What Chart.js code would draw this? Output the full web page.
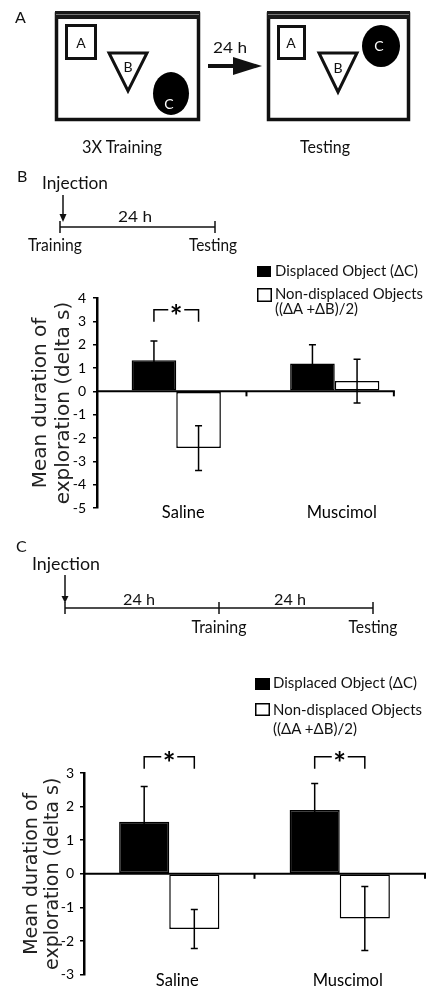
<!DOCTYPE html>
<html>
<head>
<meta charset="utf-8">
<script src="https://cdn.jsdelivr.net/npm/chart.js@4.4.0/dist/chart.umd.min.js"></script>
<style>
    html, body { margin: 0; padding: 0; background: #fff; }
    #page { position: relative; width: 427px; height: 989px; overflow: hidden; }
    canvas { position: absolute; left: 0; }
    #chartB { top: 250px; }
    #chartC { top: 740px; }
    svg { position: absolute; left: 0; top: 0; pointer-events: none; }
    svg text { font-family: Lato, "Noto Sans", sans-serif; fill: #111; }
</style>
</head>
<body>
<div id="page">
    <canvas id="chartB" width="427" height="285"></canvas>
    <canvas id="chartC" width="427" height="249"></canvas>

    <svg id="art" width="427" height="989" xmlns="http://www.w3.org/2000/svg">

        <!-- panel A : arenas -->
        <text x="15" y="23" font-size="16">A</text>

        <rect x="56.5" y="14" width="142" height="105.5" fill="none" stroke="#111" stroke-width="3.5"/>
        <rect x="55" y="11" width="145" height="8" fill="#1a1a1a"/>
        <line x1="56" y1="14.5" x2="199" y2="14.5" stroke="#777" stroke-width="1"/>
        <rect x="66.5" y="25.5" width="29" height="33" fill="none" stroke="#111" stroke-width="3"/>
        <text x="81" y="48" font-size="14" text-anchor="middle">A</text>
        <polygon points="109,53 147,53 128,91" fill="#fff" stroke="#111" stroke-width="3"/>
        <text x="128" y="72" font-size="14" text-anchor="middle">B</text>
        <ellipse cx="171" cy="93.5" rx="18" ry="21.5" fill="#000"/>
        <text x="169" y="109" font-size="14" text-anchor="middle" style="fill:#fff">C</text>

        <line x1="208" y1="66" x2="236" y2="66" stroke="#111" stroke-width="4"/>
        <polygon points="233,57 262,66 233,75" fill="#111"/>
        <text x="230" y="53" font-size="16" text-anchor="middle" textLength="34" lengthAdjust="spacingAndGlyphs">24 h</text>

        <rect x="268.5" y="14" width="140" height="105.5" fill="none" stroke="#111" stroke-width="3.5"/>
        <rect x="267" y="11" width="143" height="8" fill="#1a1a1a"/>
        <line x1="268" y1="14.5" x2="409" y2="14.5" stroke="#777" stroke-width="1"/>
        <rect x="278.5" y="26.5" width="26" height="32" fill="none" stroke="#111" stroke-width="3"/>
        <text x="291" y="48" font-size="14" text-anchor="middle">A</text>
        <polygon points="319,53 357,53 338,92" fill="#fff" stroke="#111" stroke-width="3"/>
        <text x="338" y="73" font-size="14" text-anchor="middle">B</text>
        <ellipse cx="381" cy="46" rx="19" ry="21" fill="#000"/>
        <text x="379" y="51" font-size="14" text-anchor="middle" style="fill:#fff">C</text>

        <text x="122" y="152.5" font-size="18" text-anchor="middle" textLength="80" lengthAdjust="spacingAndGlyphs">3X Training</text>
        <text x="325" y="152.5" font-size="18" text-anchor="middle" textLength="50" lengthAdjust="spacingAndGlyphs">Testing</text>

        <!-- panel B : timeline -->
        <text x="17" y="182" font-size="16">B</text>
        <text x="75" y="189" font-size="17" text-anchor="middle" textLength="66" lengthAdjust="spacingAndGlyphs">Injection</text>
        <line x1="63" y1="195" x2="63" y2="216" stroke="#111" stroke-width="1.5"/>
        <polygon points="59.5,214 66.5,214 63,222" fill="#111"/>
        <line x1="60" y1="227" x2="215" y2="227" stroke="#111" stroke-width="1.5"/>
        <line x1="60" y1="221" x2="60" y2="233" stroke="#111" stroke-width="1.5"/>
        <line x1="215" y1="221" x2="215" y2="233" stroke="#111" stroke-width="1.5"/>
        <text x="135" y="222" font-size="16" text-anchor="middle" textLength="34" lengthAdjust="spacingAndGlyphs">24 h</text>
        <text x="55" y="251" font-size="16.5" text-anchor="middle" textLength="54" lengthAdjust="spacingAndGlyphs">Training</text>
        <text x="213" y="251" font-size="16.5" text-anchor="middle" textLength="48" lengthAdjust="spacingAndGlyphs">Testing</text>

        <!-- panel C : timeline -->
        <text x="16" y="552" font-size="16">C</text>
        <text x="66" y="570" font-size="17" text-anchor="middle" textLength="68" lengthAdjust="spacingAndGlyphs">Injection</text>
        <line x1="65" y1="575" x2="65" y2="597" stroke="#111" stroke-width="1.5"/>
        <polygon points="61.5,596 68.5,596 65,603" fill="#111"/>
        <line x1="65" y1="608" x2="373" y2="608" stroke="#111" stroke-width="1.5"/>
        <line x1="65" y1="602" x2="65" y2="614" stroke="#111" stroke-width="1.5"/>
        <line x1="219" y1="602" x2="219" y2="614" stroke="#111" stroke-width="1.5"/>
        <line x1="373" y1="602" x2="373" y2="614" stroke="#111" stroke-width="1.5"/>
        <text x="139" y="605" font-size="16" text-anchor="middle" textLength="32" lengthAdjust="spacingAndGlyphs">24 h</text>
        <text x="290" y="605" font-size="16" text-anchor="middle" textLength="32" lengthAdjust="spacingAndGlyphs">24 h</text>
        <text x="219" y="633" font-size="16.5" text-anchor="middle" textLength="55" lengthAdjust="spacingAndGlyphs">Training</text>
        <text x="373" y="633" font-size="16.5" text-anchor="middle" textLength="49" lengthAdjust="spacingAndGlyphs">Testing</text>

        <!-- legends (text filled in from the series names) -->
        <rect x="257" y="266" width="14" height="11" fill="#000"/>
        <rect x="257.75" y="288.75" width="13.5" height="12.5" fill="#fff" stroke="#000" stroke-width="1.5"/>
        <text id="legB1" x="275" y="276" font-size="15.5" textLength="143" lengthAdjust="spacingAndGlyphs"></text>
        <text id="legB2" x="275" y="299" font-size="15.5" textLength="148" lengthAdjust="spacingAndGlyphs"></text>
        <text id="legB3" x="275" y="314" font-size="15.5" textLength="83" lengthAdjust="spacingAndGlyphs"></text>

        <rect x="255" y="678" width="15" height="12" fill="#000"/>
        <rect x="255.75" y="703.75" width="13.5" height="11.5" fill="#fff" stroke="#000" stroke-width="1.5"/>
        <text id="legC1" x="273" y="688" font-size="15.5" textLength="144" lengthAdjust="spacingAndGlyphs"></text>
        <text id="legC2" x="273" y="715" font-size="15.5" textLength="149" lengthAdjust="spacingAndGlyphs"></text>
        <text id="legC3" x="273" y="734" font-size="15.5" textLength="84" lengthAdjust="spacingAndGlyphs"></text>
    </svg>
</div>

<script>
/* =========================
   DATA
========================= */

const groups = ["Saline", "Muscimol"];
const seriesNames = ["Displaced Object (\u0394C)", "Non-displaced Objects"];
const seriesNote = "((\u0394A +\u0394B)/2)";
const yTitle = ["Mean duration of", "exploration (delta s)"];

// panel B : injection right after training
const displacedB = [1.33, 1.19];
const displacedErrB = [0.83, 0.81];
const nonDisplacedB = [-2.43, 0.44];
const nonDisplacedErrB = [0.96, 0.94];
const significantB = [true, false];
const yRangeB = [-5, 4];

// panel C : injection 24 h before training
const displacedC = [1.55, 1.90];
const displacedErrC = [1.05, 0.79];
const nonDisplacedC = [-1.64, -1.33];
const nonDisplacedErrC = [0.58, 0.95];
const significantC = [true, true];
const yRangeC = [-3, 3];

/* =========================
   LEGEND TEXT
========================= */

document.getElementById("legB1").textContent = seriesNames[0];
document.getElementById("legB2").textContent = seriesNames[1];
document.getElementById("legB3").textContent = seriesNote;
document.getElementById("legC1").textContent = seriesNames[0];
document.getElementById("legC2").textContent = seriesNames[1];
document.getElementById("legC3").textContent = seriesNote;

/* =========================
   ZERO AXIS, ERROR BARS, BRACKETS
========================= */

const decorPlugin = {

    id: "decor",

    afterDatasetsDraw(chart, args, opts){

        const ctx = chart.ctx;
        const x = chart.scales.x;
        const y = chart.scales.y;
        const area = chart.chartArea;
        const y0 = y.getPixelForValue(0);

        ctx.save();
        ctx.strokeStyle = "#000";
        ctx.fillStyle = "#000";

        // axis line at zero
        ctx.lineWidth = 2;
        ctx.beginPath();
        ctx.moveTo(area.left, y0);
        ctx.lineTo(x.getPixelForValue(opts.axisEnd) + 1, y0);
        ctx.stroke();

        opts.axisTicks.forEach(v => {
            const px = x.getPixelForValue(v);
            ctx.beginPath();
            ctx.moveTo(px, y0);
            ctx.lineTo(px, y0 + 5);
            ctx.stroke();
        });

        // error bars
        ctx.lineWidth = 1.5;
        chart.data.datasets.forEach((ds, di) => {
            const meta = chart.getDatasetMeta(di);
            meta.data.forEach((bar, i) => {
                const v = ds.data[i];
                const e = ds.errors[i];
                const top = y.getPixelForValue(v + e);
                const bot = y.getPixelForValue(v - e);
                ctx.beginPath();
                ctx.moveTo(bar.x, top);
                ctx.lineTo(bar.x, bot);
                ctx.moveTo(bar.x - 3.5, top);
                ctx.lineTo(bar.x + 3.5, top);
                ctx.moveTo(bar.x - 3.5, bot);
                ctx.lineTo(bar.x + 3.5, bot);
                ctx.stroke();
            });
        });

        // significance brackets
        const m0 = chart.getDatasetMeta(0);
        const m1 = chart.getDatasetMeta(1);
        opts.significant.forEach((sig, i) => {
            if(!sig) return;
            const x1 = m0.data[i].x;
            const x2 = m1.data[i].x;
            const mid = (x1 + x2) / 2;
            const top = y.getPixelForValue(opts.bracketValue);
            ctx.beginPath();
            ctx.moveTo(x1, top + 12);
            ctx.lineTo(x1, top);
            ctx.lineTo(mid - 8, top);
            ctx.moveTo(mid + 8, top);
            ctx.lineTo(x2, top);
            ctx.lineTo(x2, top + 12);
            ctx.stroke();
            ctx.font = "bold 30px Lato";
            ctx.textAlign = "center";
            ctx.textBaseline = "alphabetic";
            ctx.fillText("*", mid, top + 17);
        });

        ctx.restore();

    }

};

/* =========================
   CHARTS
========================= */

function makeChart(id, p){

    return new Chart(document.getElementById(id), {

        type: "bar",

        data: {

            labels: groups,

            datasets: [{
                label: seriesNames[0],
                data: p.displaced,
                errors: p.displacedErr,
                backgroundColor: "#000",
                borderColor: "#000",
                borderWidth: 1.5,
                borderSkipped: false
            }, {
                label: seriesNames[1],
                data: p.nonDisplaced,
                errors: p.nonDisplacedErr,
                backgroundColor: "#fff",
                borderColor: "#000",
                borderWidth: 1.5,
                borderSkipped: false
            }]

        },

        options: {

            responsive: false,
            animation: false,
            devicePixelRatio: 1,

            categoryPercentage: p.catPct,
            barPercentage: 1,

            layout: {
                padding: { top: p.padTop, right: p.padRight, left: 0, bottom: 0 }
            },

            plugins: {
                legend: { display: false },
                tooltip: { enabled: false },
                decor: {
                    axisEnd: p.axisEnd,
                    axisTicks: p.axisTicks,
                    bracketValue: p.bracketValue,
                    significant: p.significant
                }
            },

            scales: {

                x: {
                    grid: { display: false, drawTicks: false },
                    border: { display: false },
                    ticks: {
                        color: "#000",
                        mirror: true,
                        padding: p.xPad,
                        labelOffset: p.labelOffset,
                        font: { family: "Lato", size: 16.5 }
                    },
                    afterFit: s => { s.height = p.xHeight; }
                },

                y: {
                    min: p.yRange[0],
                    max: p.yRange[1],
                    ticks: {
                        stepSize: 1,
                        color: "#000",
                        padding: p.yTickPad,
                        font: { family: "Lato", size: 14 }
                    },
                    grid: {
                        drawOnChartArea: false,
                        drawTicks: true,
                        tickLength: 4,
                        color: "#000",
                        lineWidth: 1.5
                    },
                    border: { display: true, color: "#000", width: 2.5 },
                    title: {
                        display: true,
                        text: yTitle,
                        color: "#222",
                        padding: { top: p.titlePad, bottom: 0 },
                        font: { family: "DejaVu Sans", size: p.titleSize, lineHeight: p.titleLine }
                    },
                    afterFit: s => { s.width = p.yWidth; }
                }

            }

        },

        plugins: [decorPlugin]

    });

}

document.addEventListener("DOMContentLoaded", () => {

    makeChart("chartB", {
        displaced: displacedB,
        displacedErr: displacedErrB,
        nonDisplaced: nonDisplacedB,
        nonDisplacedErr: nonDisplacedErrB,
        significant: significantB,
        yRange: yRangeB,
        catPct: 0.563,
        padTop: 48,
        padRight: 13,
        xHeight: 27,
        xPad: -15,
        labelOffset: 7,
        yWidth: 97,
        yTickPad: 7,
        titlePad: 29.5,
        titleSize: 20,
        titleLine: "23px",
        axisEnd: 1.373,
        axisTicks: [0.443, 1.373],
        bracketValue: 3.5
    });

    makeChart("chartC", {
        displaced: displacedC,
        displacedErr: displacedErrC,
        nonDisplaced: nonDisplacedC,
        nonDisplacedErr: nonDisplacedErrC,
        significant: significantC,
        yRange: yRangeC,
        catPct: 0.588,
        padTop: 33,
        padRight: 2,
        xHeight: 9,
        xPad: -16,
        labelOffset: 8,
        yWidth: 84,
        yTickPad: 6,
        titlePad: 21.5,
        titleSize: 19,
        titleLine: "21px",
        axisEnd: 1.5,
        axisTicks: [0.5, 1.5],
        bracketValue: 3.48
    });

});
</script>
</body>
</html>
